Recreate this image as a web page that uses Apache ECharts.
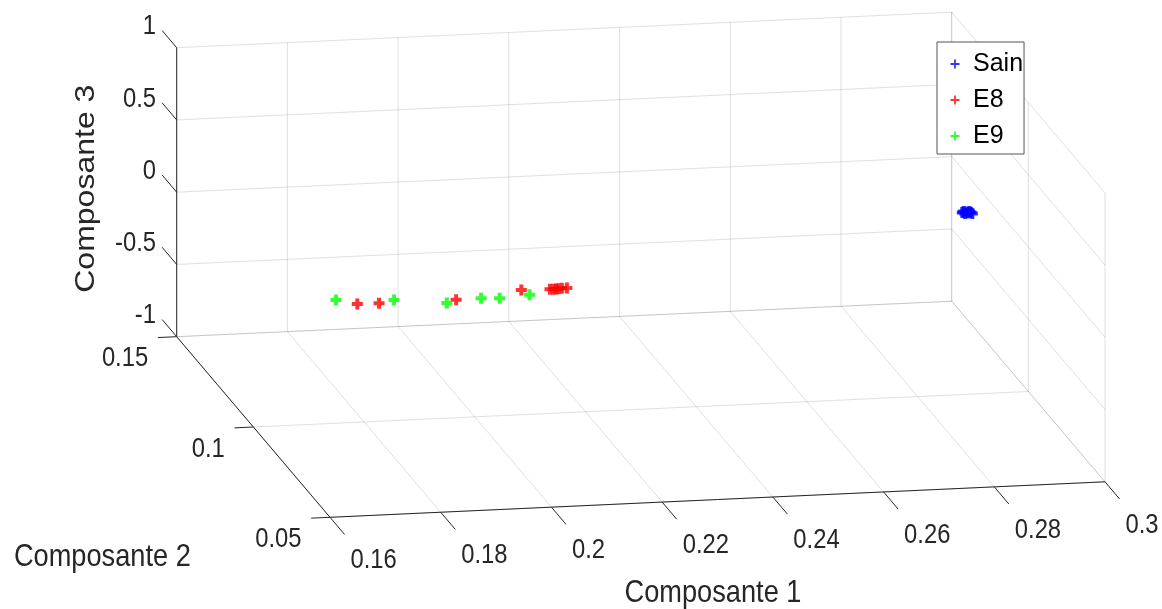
<!DOCTYPE html>
<html><head><meta charset="utf-8">
<script src="https://cdn.jsdelivr.net/npm/echarts@6/dist/echarts.min.js"></script>
<style>html,body{margin:0;padding:0;background:#fff}#c{width:1162px;height:609px}</style>
</head><body><div id="c"></div>
<script>
// ---------------- data (Composante 1, 2, 3 per group) ----------------
const seriesNames = ['Sain', 'E8', 'E9'];
const sainX = [0.2936, 0.2940, 0.2939, 0.2944, 0.2945, 0.2950, 0.2951, 0.2952];
const sainY = [0.1200, 0.1205, 0.1194, 0.1202, 0.1196, 0.1203, 0.1198, 0.1192];
const sainZ = [0, 0, 0, 0, 0, 0, 0, 0];
const e8X = [0.1749, 0.1788, 0.1927, 0.2055, 0.2106, 0.2112, 0.2117, 0.2121, 0.2128, 0.2137];
const e8Y = [0.0860, 0.0859, 0.0858, 0.0895, 0.0892, 0.0891, 0.0892, 0.0892, 0.0894, 0.0894];
const e8Z = [0, 0, 0, 0, 0, 0, 0, 0, 0, 0];
const e9X = [0.1718, 0.1819, 0.1906, 0.1973, 0.2005, 0.2062];
const e9Y = [0.0887, 0.0873, 0.0843, 0.0861, 0.0856, 0.0867];
const e9Z = [0, 0, 0, 0, 0, 0];

const xTicks = [0.16, 0.18, 0.2, 0.22, 0.24, 0.26, 0.28, 0.3];
const xTickLabels = ['0.16', '0.18', '0.2', '0.22', '0.24', '0.26', '0.28', '0.3'];
const yTicks = [0.05, 0.1, 0.15];
const yTickLabels = ['0.05', '0.1', '0.15'];
const zTicks = [-1, -0.5, 0, 0.5, 1];
const zTickLabels = ['-1', '-0.5', '0', '0.5', '1'];
const axisTitles = ['Composante 1', 'Composante 2', 'Composante 3'];

// ---------------- 3D view (orthographic projection onto the page plane) ----------------
const LIM = { x: [0.16, 0.3], y: [0.05, 0.15], z: [-1, 1] };
const VIEW = { org: [330, 517.3], vx: [775, -35.5], vy: [-153.3, -180.6], vz: [0, -289] };
function proj(x, y, z) {
  const u = (x - LIM.x[0]) / (LIM.x[1] - LIM.x[0]);
  const v = (y - LIM.y[0]) / (LIM.y[1] - LIM.y[0]);
  const w = (z - LIM.z[0]) / (LIM.z[1] - LIM.z[0]);
  return [VIEW.org[0] + u * VIEW.vx[0] + v * VIEW.vy[0] + w * VIEW.vz[0],
          VIEW.org[1] + u * VIEW.vx[1] + v * VIEW.vy[1] + w * VIEW.vz[1]];
}
function seg(a, b) { const p = proj(a[0], a[1], a[2]), q = proj(b[0], b[1], b[2]); return [p[0], p[1], q[0], q[1]]; }

const [x0, x1] = LIM.x, [y0, y1] = LIM.y, [z0, z1] = LIM.z;

// grid lines on the three back planes
const gridSegs = [];
xTicks.forEach(x => { gridSegs.push(seg([x, y1, z0], [x, y1, z1])); gridSegs.push(seg([x, y0, z0], [x, y1, z0])); });
zTicks.forEach(z => { gridSegs.push(seg([x0, y1, z], [x1, y1, z])); gridSegs.push(seg([x1, y0, z], [x1, y1, z])); });
yTicks.forEach(y => { gridSegs.push(seg([x0, y, z0], [x1, y, z0])); gridSegs.push(seg([x1, y, z0], [x1, y, z1])); });

// axis lines and tick marks
const TICK = { x: 0.0095, y: 0.0034, z: 0.0095 };
const axisSegs = [
  seg([x0, y0, z0], [x1, y0, z0]),
  seg([x0, y0, z0], [x0, y1, z0]),
  seg([x0, y1, z0], [x0, y1, z1])
];
xTicks.forEach(x => axisSegs.push(seg([x, y0, z0], [x, y0 - TICK.x, z0])));
yTicks.forEach(y => axisSegs.push(seg([x0, y, z0], [x0 - TICK.y, y, z0])));
zTicks.forEach(z => axisSegs.push(seg([x0, y1, z], [x0, y1 + TICK.z, z])));

// texts
const labelSpecs = [];
xTicks.forEach((x, i) => labelSpecs.push({ p: proj(x, y0, z0), dx: 20.5, dy: 43, text: xTickLabels[i], align: 'left', size: 28 }));
yTicks.forEach((y, i) => labelSpecs.push({ p: proj(x0, y, z0), dx: -28.5, dy: 22, text: yTickLabels[i], align: 'right', size: 28 }));
zTicks.forEach((z, i) => labelSpecs.push({ p: proj(x0, y1, z), dx: -20.7, dy: -21, text: zTickLabels[i], align: 'right', size: 28 }));
labelSpecs.push({ p: proj((x0 + x1) / 2, y0, z0), dx: -4.5, dy: 93.5, text: axisTitles[0], align: 'center', size: 32 });
labelSpecs.push({ p: proj(x0, (y0 + y1) / 2, z0), dx: -151, dy: 130.2, text: axisTitles[1], align: 'center', size: 32 });
labelSpecs.push({ p: proj(x0, y1, (z0 + z1) / 2), dx: -90.7, dy: -3.5, text: axisTitles[2], align: 'center', size: 32, rot: Math.PI / 2 });

const PLUS = 'path://M3.5,0H7.5V3.5H11V7.5H7.5V11H3.5V7.5H0V3.5H3.5Z';
const PLUS_THIN = 'path://M4,0H6V4H10V6H6V10H4V6H0V4H4Z';
const COLORS = ['#0000ff', '#ff0000', '#00ff00'];
const groups = [[sainX, sainY, sainZ], [e8X, e8Y, e8Z], [e9X, e9Y, e9Z]];

function segRenderer(color) {
  return function (params, api) {
    const a = api.coord([api.value(0), api.value(1)]);
    const b = api.coord([api.value(2), api.value(3)]);
    return { type: 'line', shape: { x1: a[0], y1: a[1], x2: b[0], y2: b[1] }, style: { stroke: color, lineWidth: 1 } };
  };
}

const series = [
  { type: 'custom', name: '_grid', silent: true, z: 1, clip: false, data: gridSegs,
    encode: { x: [0, 2], y: [1, 3] }, renderItem: segRenderer('rgba(38,38,38,0.14)') },
  { type: 'custom', name: '_axes', silent: true, z: 2, clip: false, data: axisSegs,
    encode: { x: [0, 2], y: [1, 3] }, renderItem: segRenderer('#262626') },
  { type: 'custom', name: '_text', silent: true, z: 2, clip: false,
    data: labelSpecs.map(s => s.p),
    renderItem: function (params, api) {
      const s = labelSpecs[params.dataIndex];
      const c = api.coord([api.value(0), api.value(1)]);
      const rot = s.rot || 0;
      return { type: 'text', x: c[0] + s.dx, y: c[1] + s.dy, rotation: rot,
        scaleX: rot ? 1 : 0.85, scaleY: rot ? 0.85 : 1,
        style: { text: s.text, fontSize: s.size, fontFamily: 'Liberation Sans', fill: '#262626',
                 align: s.align, verticalAlign: 'middle' } };
    } }
];
seriesNames.forEach((n, k) => {
  const g = groups[k];
  series.push({ type: 'scatter', name: n, z: 3, symbol: PLUS, symbolSize: 11,
    itemStyle: { color: COLORS[k] }, emphasis: { disabled: true },
    data: g[0].map((x, i) => proj(x, g[1][i], g[2][i])) });
});

const chart = echarts.init(document.getElementById('c'), null, { renderer: 'canvas' });
chart.setOption({
  animation: false,
  backgroundColor: '#fff',
  grid: { left: 0, right: 0, top: 0, bottom: 0 },
  xAxis: { type: 'value', min: 0, max: 1162, show: false },
  yAxis: { type: 'value', min: 0, max: 609, inverse: true, show: false },
  legend: {
    orient: 'vertical', left: 937, top: 42, padding: [9.5, 1, 5.5, 13.5], itemGap: 11,
    itemWidth: 26, itemHeight: 9, selectedMode: false,
    backgroundColor: '#fff', borderColor: '#555', borderWidth: 1,
    textStyle: { fontSize: 25, fontFamily: "'Liberation Sans', Arial", color: '#000' },
    data: seriesNames.map(n => ({ name: n, icon: PLUS_THIN }))
  },
  series: series
});
</script>
</body></html>
